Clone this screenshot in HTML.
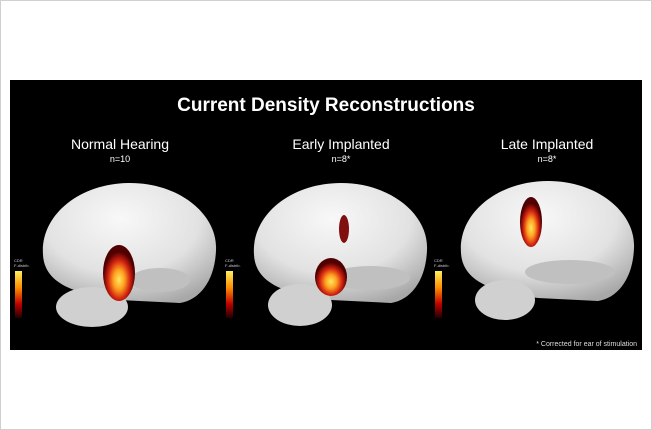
<!DOCTYPE html>
<html><head><meta charset="utf-8"><style>
html,body{margin:0;padding:0;background:#fff;}
body{width:652px;height:430px;overflow:hidden;position:relative;font-family:"Liberation Sans",sans-serif;}
.frame{position:absolute;left:0;top:0;width:650px;height:428px;border:1px solid #d0d0d0;}
</style></head><body>
<div class="frame"></div>
<svg width="652" height="430" style="position:absolute;left:0;top:0">
<defs>
<radialGradient id="br" cx="45%" cy="30%" r="75%">
<stop offset="0" stop-color="#f8f8f8"/><stop offset="0.6" stop-color="#e2e2e2"/><stop offset="1" stop-color="#a8a8a8"/>
</radialGradient>
<radialGradient id="hot" cx="50%" cy="62%" r="50%">
<stop offset="0" stop-color="#ffe860"/><stop offset="0.35" stop-color="#ffa020"/><stop offset="0.7" stop-color="#d02010"/><stop offset="1" stop-color="#500000"/>
</radialGradient>
<linearGradient id="cb" x1="0" y1="0" x2="0" y2="1">
<stop offset="0" stop-color="#fff060"/><stop offset="0.35" stop-color="#ff9000"/><stop offset="0.7" stop-color="#c00000"/><stop offset="1" stop-color="#200000"/>
</linearGradient>
<path id="brain" d="M-87,10 C-90,-30 -50,-62 0,-62 C50,-62 88,-30 86,5 C85,35 70,55 50,58 L-10,55 C-40,50 -85,45 -87,10 Z"/>
</defs>
<rect x="10" y="80" width="632" height="270" fill="#000"/>
<text x="326" y="111" fill="#fff" font-size="19" font-weight="bold" text-anchor="middle">Current Density Reconstructions</text>
<g fill="#fff" text-anchor="middle">
<text x="120" y="149" font-size="14">Normal Hearing</text>
<text x="120" y="162" font-size="9">n=10</text>
<text x="341" y="149" font-size="14">Early Implanted</text>
<text x="341" y="162" font-size="9">n=8*</text>
<text x="547" y="149" font-size="14">Late Implanted</text>
<text x="547" y="162" font-size="9">n=8*</text>
</g>
<g>
<use href="#brain" x="130" y="245" fill="url(#br)"/>
<ellipse cx="92" cy="307" rx="36" ry="20" fill="#d0d0d0"/>
<ellipse cx="160" cy="280" rx="30" ry="12" fill="#c0c0c0"/>
<ellipse cx="119" cy="273" rx="16" ry="28" fill="url(#hot)"/>
</g>
<g>
<use href="#brain" x="341" y="245" fill="url(#br)"/>
<ellipse cx="300" cy="305" rx="32" ry="21" fill="#d0d0d0"/>
<ellipse cx="370" cy="278" rx="40" ry="12" fill="#c0c0c0"/>
<ellipse cx="331" cy="277" rx="16" ry="19" fill="url(#hot)"/>
<ellipse cx="344" cy="229" rx="5" ry="14" fill="#801010"/>
</g>
<g>
<use href="#brain" x="548" y="243" fill="url(#br)"/>
<ellipse cx="505" cy="300" rx="30" ry="20" fill="#d0d0d0"/>
<ellipse cx="570" cy="272" rx="45" ry="12" fill="#c0c0c0"/>
<ellipse cx="531" cy="222" rx="11" ry="25" fill="url(#hot)"/>
</g>
<g font-size="4" fill="#ccc">
<text x="14" y="262">CDR</text><text x="14" y="267">F-distrib.</text>
<rect x="15" y="271" width="7" height="47" fill="url(#cb)"/>
<text x="225" y="262">CDR</text><text x="225" y="267">F-distrib.</text>
<rect x="226" y="271" width="7" height="47" fill="url(#cb)"/>
<text x="434" y="262">CDR</text><text x="434" y="267">F-distrib.</text>
<rect x="435" y="271" width="7" height="47" fill="url(#cb)"/>
</g>
<text x="637" y="346" fill="#ddd" font-size="7" text-anchor="end">* Corrected for ear of stimulation</text>
</svg>
</body></html>
